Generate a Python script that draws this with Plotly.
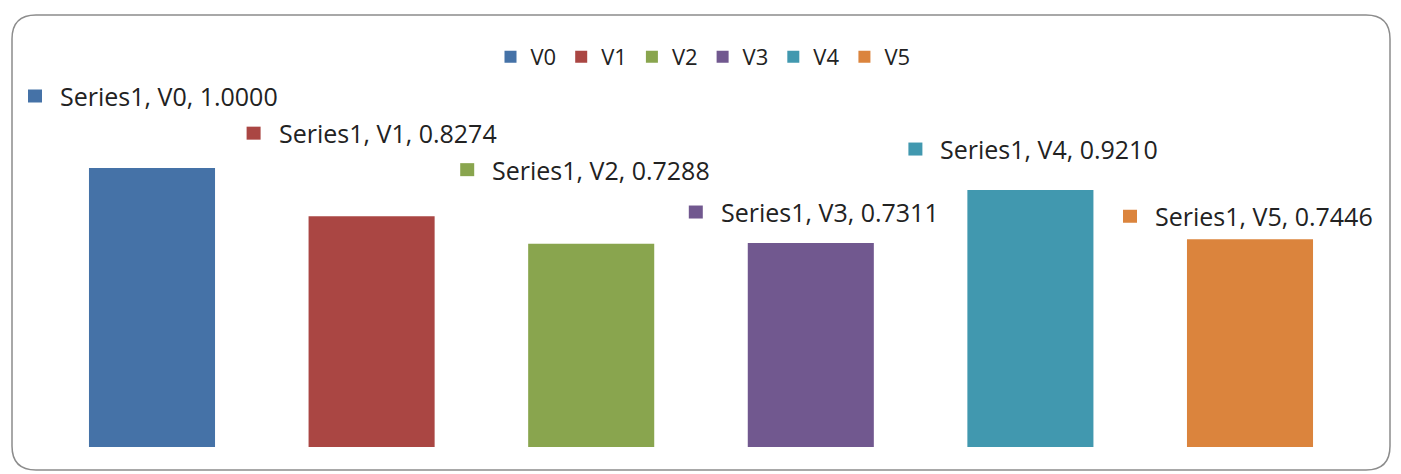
import plotly.graph_objects as go

categories = ["V0", "V1", "V2", "V3", "V4", "V5"]
series_name = "Series1"
values = [1.0000, 0.8274, 0.7288, 0.7311, 0.9210, 0.7446]
colors = ["#4572A7", "#AA4643", "#89A54E", "#71588F", "#4198AF", "#DB843D"]

# label placement (pixel offsets relative to bar center / bar top)
label_dx = [-95, -96, -102, -93, -93, -98]
label_dy = [72, 83, 74, 31, 41, 23]

W, H = 1401, 474
ML, MR, MT, MB = 0, 0, 0, 27
CAT_PX = 219.6          # pixels per category
FIRST_CENTER = 152      # pixel of first category center
plot_w = W - ML - MR
plot_h = H - MT - MB
ymax = plot_h / 279.0
x_lo = -(FIRST_CENTER - ML) / CAT_PX
x_hi = x_lo + plot_w / CAT_PX

FONT = "Open Sans, sans-serif"

fig = go.Figure()
for i, (c, v, col) in enumerate(zip(categories, values, colors)):
    fig.add_trace(go.Bar(x=[i], y=[v], name=c, marker=dict(color=col, line=dict(width=0)),
                         width=0.574, showlegend=True, hoverinfo="skip"))

annotations = []
shapes = []
for i, (c, v, col) in enumerate(zip(categories, values, colors)):
    annotations.append(dict(x=i, y=v, xref="x", yref="y", xanchor="left", yanchor="middle",
                            xshift=label_dx[i] + 1, yshift=label_dy[i], showarrow=False,
                            text=f"{series_name}, {c}, {v:.4f}",
                            font=dict(family=FONT, size=25, color="#222222")))
    shapes.append(dict(type="rect", xref="x", yref="y", xsizemode="pixel", ysizemode="pixel",
                       xanchor=i, yanchor=v,
                       x0=label_dx[i] - 29, x1=label_dx[i] - 15,
                       y0=label_dy[i] - 6.5, y1=label_dy[i] + 6.5,
                       fillcolor=col, line=dict(width=0)))

# rounded chart border in paper coordinates
def px(x):
    return (x - ML) / plot_w
def py(y):
    return (H - MB - y) / plot_h

L, R, T, B, r = 12, 1390, 15, 470, 24
path = (f"M {px(L + r)},{py(T)} L {px(R - r)},{py(T)} Q {px(R)},{py(T)} {px(R)},{py(T + r)} "
        f"L {px(R)},{py(B - r)} Q {px(R)},{py(B)} {px(R - r)},{py(B)} "
        f"L {px(L + r)},{py(B)} Q {px(L)},{py(B)} {px(L)},{py(B - r)} "
        f"L {px(L)},{py(T + r)} Q {px(L)},{py(T)} {px(L + r)},{py(T)} Z")
shapes.append(dict(type="path", xref="paper", yref="paper", path=path,
                   line=dict(color="#8c8c8c", width=1.5), layer="below"))

fig.update_layout(
    width=W, height=H,
    margin=dict(l=ML, r=MR, t=MT, b=MB, pad=0),
    paper_bgcolor="white", plot_bgcolor="white",
    barmode="overlay",
    xaxis=dict(visible=False, range=[x_lo, x_hi]),
    yaxis=dict(visible=False, range=[0, ymax]),
    legend=dict(orientation="h", x=px(703), xanchor="center", y=py(57), yanchor="middle",
                font=dict(family=FONT, size=22, color="#222222"),
                itemwidth=30, tracegroupgap=0, bgcolor="rgba(0,0,0,0)"),
    annotations=annotations,
    shapes=shapes,
)

fig.write_html("out.html")
